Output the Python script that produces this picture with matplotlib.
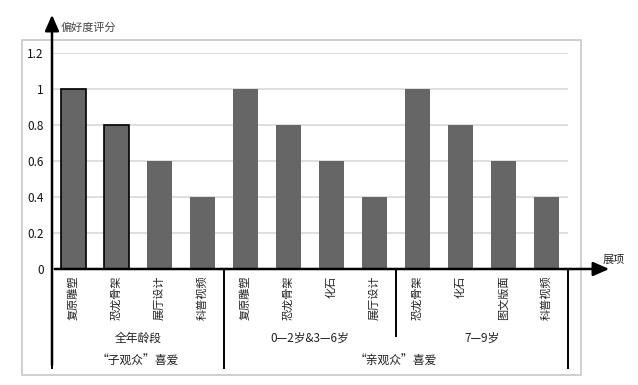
import matplotlib
matplotlib.use("Agg")
import matplotlib.pyplot as plt
from matplotlib.patches import Rectangle, FancyArrowPatch

plt.rcParams['font.family'] = ['Noto Sans CJK SC', 'DejaVu Sans']

categories = ['复原雕塑', '恐龙骨架', '展厅设计', '科普视频',
              '复原雕塑', '恐龙骨架', '化石', '展厅设计',
              '恐龙骨架', '化石', '图文版面', '科普视频']
values = [1, 0.8, 0.6, 0.4, 1, 0.8, 0.6, 0.4, 1, 0.8, 0.6, 0.4]
age_groups = ['全年龄段', '0—2岁&3—6岁', '7—9岁']
age_spans = [(0, 3), (4, 7), (8, 11)]
audience_groups = ['“子观众”喜爱', '“亲观众”喜爱']
audience_spans = [(0, 3), (4, 11)]
yticks = [0, 0.2, 0.4, 0.6, 0.8, 1, 1.2]
ytick_labels = ['0', '0.2', '0.4', '0.6', '0.8', '1', '1.2']

W, H = 638, 385
fig = plt.figure(figsize=(W / 100, H / 100), dpi=100)

def fx(px):
    return px / W

def fy(py):
    return 1 - py / H

# outer frame
fig.add_artist(Rectangle((fx(22), fy(375)), fx(581) - fx(22), fy(40) - fy(375),
                         transform=fig.transFigure, fill=False,
                         edgecolor='#c8c8c8', linewidth=1.2))

ax = fig.add_axes([fx(52), fy(269), fx(568) - fx(52), fy(53) - fy(269)])
x = list(range(len(categories)))
bars = ax.bar(x, values, width=0.6, color='#666666', zorder=3)
for i, b in enumerate(bars):
    if i < 2:
        b.set_edgecolor('black')
        b.set_linewidth(1.2)
ax.set_xlim(-0.5, len(categories) - 0.5)
ax.set_ylim(0, 1.2)
ax.set_yticks(yticks)
ax.set_yticklabels(ytick_labels, fontsize=8.5, color='#111111')
ax.tick_params(axis='y', length=0, pad=6)
ax.set_xticks([])
ax.grid(axis='y', color='#d9d9d9', linewidth=1.2, zorder=0)
for s in ax.spines.values():
    s.set_visible(False)

# axes arrows
fig.add_artist(FancyArrowPatch((fx(52), fy(368)), (fx(52), fy(12)),
                               transform=fig.transFigure, arrowstyle='-|>,head_length=0.8,head_width=0.35',
                               mutation_scale=12, color='black', linewidth=1.8, zorder=5))
fig.add_artist(FancyArrowPatch((fx(52), fy(269)), (fx(612), fy(269)),
                               transform=fig.transFigure, arrowstyle='-|>,head_length=0.8,head_width=0.35',
                               mutation_scale=12, color='black', linewidth=1.8, zorder=5))
fig.text(fx(61), fy(28), '偏好度评分', fontsize=8, color='#444444', va='center', ha='left')
fig.text(fx(603), fy(260), '展项', fontsize=8, color='#222222', va='center', ha='left')

xt = ax.get_xaxis_transform()
ax_h = 269 - 53

def ay(py):
    return (269 - py) / ax_h

# category labels
for i, c in enumerate(categories):
    ax.text(i, ay(276), c, rotation=90, ha='center', va='top', fontsize=8,
            color='#222222', transform=xt, clip_on=False)

# separators
for xs, ybot in [(-0.5, 368), (3.5, 368), (7.5, 336), (11.5, 368)]:
    ax.plot([xs, xs], [0, ay(ybot)], transform=xt, color='black', linewidth=1.4,
            clip_on=False)

for name, (a, b) in zip(age_groups, age_spans):
    ax.text((a + b) / 2, ay(338), name, ha='center', va='center', fontsize=8.5,
            color='#222222', transform=xt, clip_on=False)
for name, (a, b) in zip(audience_groups, audience_spans):
    ax.text((a + b) / 2, ay(361), name, ha='center', va='center', fontsize=8.5,
            color='#222222', transform=xt, clip_on=False)

fig.savefig('out.png', dpi=100)
